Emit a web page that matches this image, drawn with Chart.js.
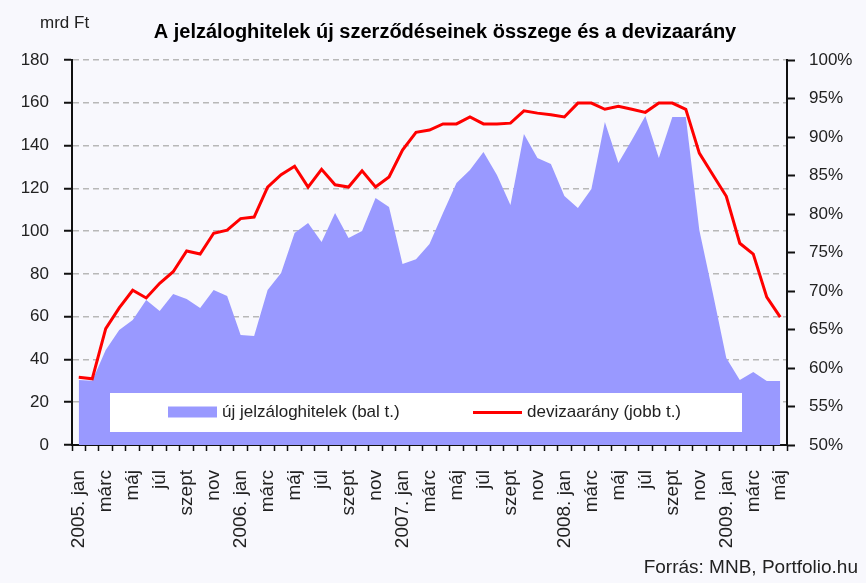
<!DOCTYPE html>
<html>
<head>
<meta charset="utf-8">
<script src="https://cdn.jsdelivr.net/npm/chart.js@4"></script>
<style>
  html, body { margin: 0; padding: 0; background: #f8f8fd; }
  canvas { display: block; }
</style>
</head>
<body>
<canvas id="chart" width="866" height="583"></canvas>
<script>
// months, 2005 jan - 2009 máj
const years = [2005, 2006, 2007, 2008, 2009];
const months = ['jan', 'febr', 'márc', 'ápr', 'máj', 'jún', 'júl', 'aug', 'szept', 'okt', 'nov', 'dec'];

// új jelzáloghitelek, mrd Ft (bal tengely)
const hitelek = [30.4, 30, 44.4, 53.8, 58.4, 67.8, 62.6, 70.6, 68.3, 64.0, 72.5, 69.7,
  51.4, 51.0, 72.5, 80.4, 99.1, 103.8, 94.9, 108.5, 96.8, 100.0, 115.5, 111.3,
  84.6, 86.9, 94.0, 108.5, 122.5, 128.6, 137.0, 126.2, 112.2, 145.4, 134.2, 131.4,
  116.4, 110.8, 119.7, 151.0, 131.8, 142.6, 153.8, 134.2, 153.3, 153.3, 100.5, 71.1,
  40.7, 30.4, 34.1, 29.9, 29.9];

// devizaarány, % (jobb tengely)
const deviza = [58.8, 58.6, 65.1, 67.8, 70.1, 69.1, 71.0, 72.5, 75.2, 74.8, 77.5, 77.9,
  79.4, 79.6, 83.5, 85.1, 86.2, 83.5, 85.8, 83.8, 83.5, 85.6, 83.5, 84.8,
  88.3, 90.6, 90.9, 91.7, 91.7, 92.6, 91.7, 91.7, 91.8, 93.4, 93.1, 92.9,
  92.6, 94.4, 94.4, 93.6, 94.0, 93.6, 93.2, 94.4, 94.4, 93.6, 87.9, 85.1,
  82.3, 76.2, 74.8, 69.2, 66.6];

const labels = [];
years.forEach(y => months.forEach((m, i) => {
  if (labels.length < hitelek.length) labels.push(i === 0 ? y + '. ' + m : m);
}));

const FONT = 'Liberation Sans, Arial, sans-serif';
const textColor = '#222';

const decor = {
  id: 'decor',
  beforeDraw(chart) {
    const c = chart.ctx;
    c.save();
    c.fillStyle = '#f8f8fd';
    c.fillRect(0, 0, chart.width, chart.height);
    c.restore();
  },
  afterDatasetsDraw(chart) {
    const c = chart.ctx;
    const a = chart.chartArea;
    c.save();
    // legend box
    const bx = a.left + 38, bw = a.right - 45 - bx;
    const by = a.bottom - 52, bh = 39;
    c.fillStyle = '#ffffff';
    c.fillRect(bx, by, bw, bh);
    const my = by + bh / 2;
    c.fillStyle = '#9999ff';
    c.fillRect(bx + 58, my - 6, 49, 11);
    c.font = '17px ' + FONT;
    c.fillStyle = textColor;
    c.textBaseline = 'middle';
    c.textAlign = 'left';
    c.fillText('új jelzáloghitelek (bal t.)', bx + 112, my);
    c.strokeStyle = '#ff0000';
    c.lineWidth = 3;
    c.beginPath();
    c.moveTo(bx + 363, my);
    c.lineTo(bx + 412, my);
    c.stroke();
    c.fillText('devizaarány (jobb t.)', bx + 417, my);
    c.restore();
  },
  afterDraw(chart) {
    const c = chart.ctx;
    c.save();
    c.fillStyle = textColor;
    c.textBaseline = 'middle';
    c.textAlign = 'left';
    c.font = '17px ' + FONT;
    c.fillText('mrd Ft', 40, 23);
    c.font = 'bold 20px ' + FONT;
    c.textAlign = 'center';
    c.fillStyle = '#000';
    c.fillText('A jelzáloghitelek új szerződéseinek összege és a devizaarány', 445, 32);
    c.font = '19px ' + FONT;
    c.textAlign = 'right';
    c.fillStyle = textColor;
    c.fillText('Forrás: MNB, Portfolio.hu', 858, 568);
    c.restore();
  }
};

new Chart(document.getElementById('chart').getContext('2d'), {
  type: 'line',
  data: {
    labels: labels,
    datasets: [{
      label: 'devizaarány (jobb t.)',
      data: deviza,
      yAxisID: 'y1',
      borderColor: '#ff0000',
      borderWidth: 3,
      pointRadius: 0,
      fill: false,
      tension: 0,
      order: 0
    }, {
      label: 'új jelzáloghitelek (bal t.)',
      data: hitelek,
      yAxisID: 'y',
      borderWidth: 0,
      borderColor: 'rgba(0,0,0,0)',
      backgroundColor: '#9999ff',
      pointRadius: 0,
      fill: 'origin',
      tension: 0,
      order: 1
    }]
  },
  options: {
    responsive: false,
    animation: false,
    devicePixelRatio: 1,
    layout: { padding: { top: 60, left: 0, right: 0, bottom: 0 } },
    plugins: {
      legend: { display: false },
      title: { display: false },
      tooltip: { enabled: false }
    },
    scales: {
      x: {
        offset: true,
        grid: { offset: true, drawOnChartArea: false, tickLength: 6, tickColor: '#111', tickWidth: 1.5 },
        border: { color: '#111', width: 2 },
        ticks: {
          autoSkip: false,
          maxRotation: 90,
          minRotation: 90,
          padding: 19,
          color: textColor,
          font: { family: FONT, size: 19 },
          callback: function (v, i) { return i % 2 === 0 ? this.getLabelForValue(v) : ''; }
        },
        afterFit(s) { s.height = 138; }
      },
      y: {
        position: 'left',
        min: 0,
        max: 180,
        ticks: { stepSize: 20, padding: 15, color: textColor, font: { family: FONT, size: 17 } },
        grid: { color: '#b8b8b8', lineWidth: 1.5, tickLength: 8, tickColor: '#111', tickWidth: 2 },
        border: { color: '#111', width: 2, dash: [6, 4] },
        afterFit(s) { s.width = 72; }
      },
      y1: {
        position: 'right',
        min: 50,
        max: 100,
        ticks: { stepSize: 5, padding: 14, color: textColor, font: { family: FONT, size: 17 },
          callback: v => v + '%' },
        grid: { drawOnChartArea: false, tickLength: 8, tickColor: '#111', tickWidth: 2 },
        border: { color: '#111', width: 2 },
        afterFit(s) { s.width = 79; }
      }
    }
  },
  plugins: [decor]
});
</script>
</body>
</html>
